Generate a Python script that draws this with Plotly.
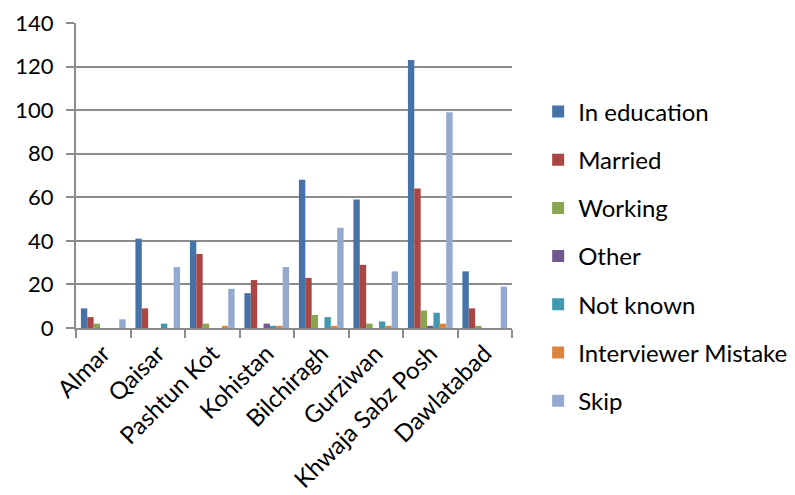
import plotly.graph_objects as go

districts = ["Almar", "Qaisar", "Pashtun Kot", "Kohistan", "Bilchiragh",
             "Gurziwan", "Khwaja Sabz Posh", "Dawlatabad"]

in_education = [9, 41, 40, 16, 68, 59, 123, 26]
married = [5, 9, 34, 22, 23, 29, 64, 9]
working = [2, 0, 2, 0, 6, 2, 8, 1]
other = [0, 0, 0, 2, 0, 0, 1, 0]
not_known = [0, 2, 0, 1, 5, 3, 7, 0]
interviewer_mistake = [0, 0, 1, 1, 1, 1, 2, 0]
skip = [4, 28, 18, 28, 46, 26, 99, 19]

series = [
    ("In education", in_education, "#4572A7"),
    ("Married", married, "#AA4643"),
    ("Working", working, "#89A54E"),
    ("Other", other, "#71588F"),
    ("Not known", not_known, "#4198AF"),
    ("Interviewer Mistake", interviewer_mistake, "#DB843D"),
    ("Skip", skip, "#93A9CF"),
]

FONT = "Lato"

fig = go.Figure()
for i, (name, vals, col) in enumerate(series):
    fig.add_trace(go.Bar(
        x=districts, y=vals, name=name,
        marker=dict(color=col, line=dict(width=0)),
        legendgroup=f"g{i}",
    ))

fig.update_layout(
    width=795, height=495,
    margin=dict(l=76, r=283, t=23, b=167, autoexpand=False),
    paper_bgcolor="white", plot_bgcolor="white",
    barmode="group", bargap=0.18, bargroupgap=0,
    font=dict(family=FONT, size=24, color="#000000"),
    legend=dict(
        x=1.06, xanchor="left",
        yref="container", y=0.482, yanchor="middle",
        font=dict(family=FONT, size=24, color="#000000"),
        traceorder="grouped", tracegroupgap=14,
        itemwidth=30, bgcolor="rgba(0,0,0,0)",
        maxheight=490,
    ),
    showlegend=True,
)
fig.update_xaxes(
    type="category", tickangle=-45, tickson="boundaries",
    ticks="outside", ticklen=8, tickcolor="#8c8c8c", tickwidth=2,
    showline=True, linecolor="#8c8c8c", linewidth=2,
    showgrid=False, tickfont=dict(family=FONT, size=24),
    automargin=False,
)
fig.update_yaxes(
    range=[0, 140], dtick=20, tick0=0,
    ticks="outside", ticklen=8, tickcolor="#8c8c8c", tickwidth=2,
    showline=True, linecolor="#8c8c8c", linewidth=2,
    showgrid=True, gridcolor="#8c8c8c", gridwidth=2,
    zeroline=False, tickfont=dict(family=FONT, size=22),
    ticklabelstandoff=8, automargin=False,
)

fig.write_html("out.html")
